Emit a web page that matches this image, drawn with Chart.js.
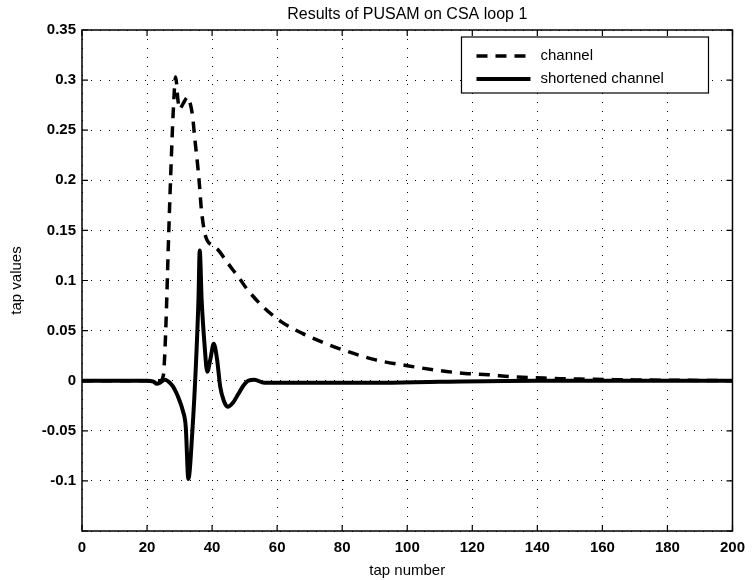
<!DOCTYPE html>
<html lang="en">
<head>
  <meta charset="UTF-8">
  <title>Results of PUSAM on CSA loop 1</title>
  <script src="https://cdn.jsdelivr.net/npm/chart.js"></script>
  <style>
    html, body { margin: 0; padding: 0; background: #fff; }
    #wrap { width: 753px; height: 580px; }
  </style>
</head>
<body>
  <div id="wrap"><canvas id="grafica" width="753" height="580"></canvas></div>
  <script>
    // tap values
    var canalTaps = [0, 10, 20, 24, 25, 25.5, 26, 26.5, 27, 27.5, 28, 28.8, 29.5, 30, 31, 32.5, 33.4, 34, 34.7, 35.5, 36.1, 36.7, 37.7, 38.5, 40, 42, 44, 46.3, 48, 50.6, 55.6, 61.2, 67.9, 73.5, 80, 90, 100, 110, 117.8, 124.9, 132.2, 139.6, 147, 155, 165, 180, 200];
    var canalValores = [0, 0, 0, 0, 0.005, 0.03, 0.075, 0.13, 0.18, 0.225, 0.265, 0.303, 0.28, 0.271, 0.276, 0.283, 0.275, 0.264, 0.241, 0.217, 0.196, 0.171, 0.148, 0.14, 0.135, 0.13, 0.121, 0.111, 0.104, 0.092, 0.074, 0.059, 0.047, 0.039, 0.031, 0.021, 0.015, 0.010, 0.0073, 0.006, 0.004, 0.003, 0.002, 0.0015, 0.001, 0.0005, 0];

    var cortoTaps = [0, 10, 20, 22, 23, 24, 25.5, 27, 28, 29, 30, 31, 31.9, 32.7, 33.9, 35, 35.8, 36.2, 36.8, 37.7, 38.5, 39.5, 40.5, 41.5, 42.5, 43.6, 44.8, 46.4, 48.1, 49.6, 51.1, 53, 56, 70, 90, 110, 140, 170, 200];
    var cortoValores = [0, 0, 0, -0.001, -0.003, -0.002, 0.001, -0.002, -0.006, -0.012, -0.02, -0.03, -0.046, -0.098, -0.052, 0.014, 0.08, 0.13, 0.08, 0.035, 0.009, 0.022, 0.037, 0.022, -0.006, -0.02, -0.026, -0.022, -0.013, -0.005, 0, 0.001, -0.002, -0.002, -0.002, -0.001, 0, 0, 0];

    var etiquetas = ['channel', 'shortened channel'];
    var titulo = 'Results of PUSAM on CSA loop 1';

    function puntos(xs, ys) {
      return xs.map(function (x, i) { return { x: x, y: ys[i] }; });
    }

    // titulo, marco, ticks hacia dentro y leyenda estilo Matlab
    var marcoMatlab = {
      id: 'marcoMatlab',
      afterDatasetsDraw: function (chart) {
        var ctx = chart.ctx, a = chart.chartArea;
        var sx = chart.scales.x, sy = chart.scales.y;
        ctx.save();

        // titulo centrado sobre el area del grafico
        ctx.fillStyle = '#000';
        ctx.font = '16px "Liberation Sans", Arial, sans-serif';
        ctx.textAlign = 'center';
        ctx.textBaseline = 'middle';
        ctx.fillText(titulo, (a.left + a.right) / 2, 15);
        ctx.textAlign = 'left';

        ctx.strokeStyle = '#000';
        ctx.lineWidth = 1.5;
        ctx.strokeRect(a.left, a.top, a.right - a.left, a.bottom - a.top);
        ctx.lineWidth = 1.2;
        sx.ticks.forEach(function (t) {
          var px = sx.getPixelForValue(t.value);
          ctx.beginPath();
          ctx.moveTo(px, a.bottom); ctx.lineTo(px, a.bottom - 6);
          ctx.moveTo(px, a.top); ctx.lineTo(px, a.top + 6);
          ctx.stroke();
        });
        sy.ticks.forEach(function (t) {
          var py = sy.getPixelForValue(t.value);
          ctx.beginPath();
          ctx.moveTo(a.left, py); ctx.lineTo(a.left + 6, py);
          ctx.moveTo(a.right, py); ctx.lineTo(a.right - 6, py);
          ctx.stroke();
        });

        // leyenda
        var lx = a.right - 271, ly = a.top + 7, lw = 247, lh = 56;
        ctx.fillStyle = '#fff';
        ctx.fillRect(lx, ly, lw, lh);
        ctx.lineWidth = 1.2;
        ctx.strokeRect(lx, ly, lw, lh);
        ctx.font = '15px "Liberation Sans", Arial, sans-serif';
        ctx.textBaseline = 'middle';
        chart.data.datasets.forEach(function (ds, i) {
          var yy = ly + 19 + i * 23;
          ctx.beginPath();
          ctx.setLineDash(ds.borderDash || []);
          ctx.lineWidth = ds.borderWidth;
          ctx.strokeStyle = '#000';
          ctx.moveTo(lx + 15, yy); ctx.lineTo(lx + 69, yy);
          ctx.stroke();
          ctx.setLineDash([]);
          ctx.fillStyle = '#000';
          ctx.fillText(ds.label, lx + 79, yy);
        });
        ctx.restore();
      }
    };

    var grafica = new Chart(document.getElementById('grafica'), {
      type: 'line',
      data: {
        datasets: [{
          label: etiquetas[0],
          data: puntos(canalTaps, canalValores),
          borderColor: '#000',
          borderWidth: 3.5,
          borderDash: [11, 8],
          pointRadius: 0,
          fill: false,
          cubicInterpolationMode: 'monotone'
        }, {
          label: etiquetas[1],
          data: puntos(cortoTaps, cortoValores),
          borderColor: '#000',
          borderWidth: 4,
          pointRadius: 0,
          fill: false,
          cubicInterpolationMode: 'monotone'
        }]
      },
      options: {
        responsive: false,
        animation: false,
        layout: { padding: { right: 16, left: 0, bottom: 0, top: 30 } },
        plugins: {
          legend: { display: false },
          tooltip: { enabled: false },
          title: { display: false }
        },
        scales: {
          x: {
            type: 'linear',
            min: 0,
            max: 200,
            afterFit: function (s) { s.height = 49; },
            ticks: {
              stepSize: 20,
              color: '#000',
              padding: 8,
              maxRotation: 0,
              font: { family: '"Liberation Sans", Arial, sans-serif', size: 15, weight: 'bold' }
            },
            grid: { color: '#000', lineWidth: 1, drawTicks: false },
            border: { display: false, dash: [1, 8] },
            title: {
              display: true,
              text: 'tap number',
              color: '#000',
              padding: { top: 2, bottom: 0 },
              font: { family: '"Liberation Sans", Arial, sans-serif', size: 15 }
            }
          },
          y: {
            min: -0.15,
            max: 0.35,
            afterFit: function (s) { s.width = 82; },
            ticks: {
              stepSize: 0.05,
              color: '#000',
              padding: 6,
              font: { family: '"Liberation Sans", Arial, sans-serif', size: 15, weight: 'bold' },
              callback: function (v) {
                var r = Number(v.toFixed(2));
                if (r === -0.15) return '';
                return String(r);
              }
            },
            grid: { color: '#000', lineWidth: 1, drawTicks: false },
            border: { display: false, dash: [1, 8] },
            title: {
              display: true,
              text: 'tap values',
              color: '#000',
              padding: { top: 8, bottom: 0 },
              font: { family: '"Liberation Sans", Arial, sans-serif', size: 15 }
            }
          }
        }
      },
      plugins: [marcoMatlab]
    });
  </script>
</body>
</html>
